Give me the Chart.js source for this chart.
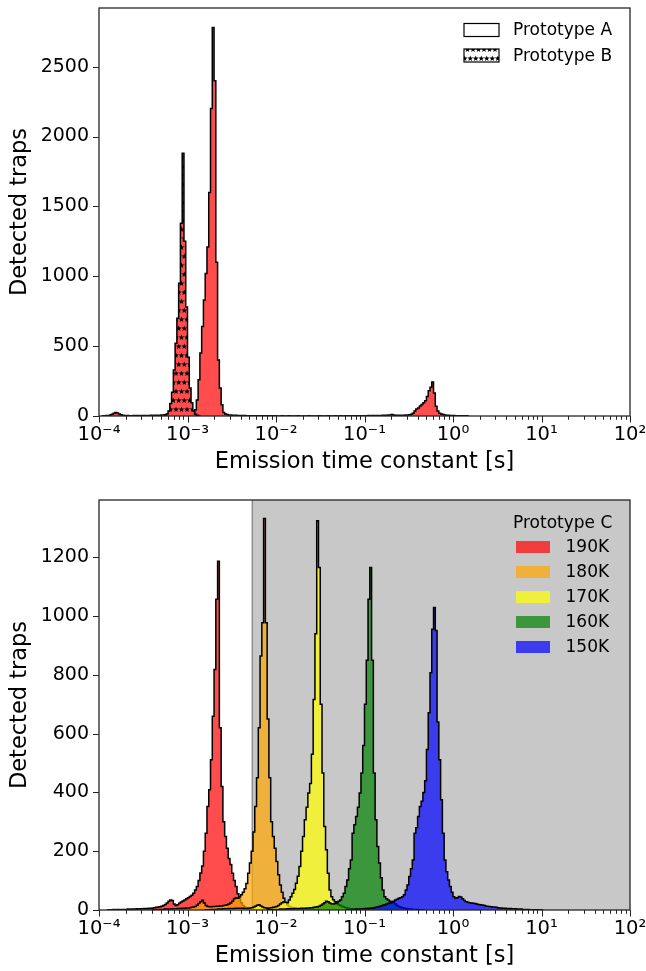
<!DOCTYPE html>
<html><head><meta charset="utf-8">
<script src="https://cdn.jsdelivr.net/npm/chart.js@4.4.0/dist/chart.umd.min.js"></script>
<style>
html,body{margin:0;padding:0;background:#fff;}
#wrap{position:relative;width:646px;height:971px;overflow:hidden;background:#fff;}
canvas{position:absolute;left:0;}
#c1{top:0;} #c2{top:485px;}
</style></head><body>
<div id="wrap">
<canvas id="c1" width="646" height="485"></canvas>
<canvas id="c2" width="646" height="486"></canvas>
</div>
<script>
// ---------------- data ----------------
const BIN_START_EXP = -4;      // log10 of the first histogram bin edge
const BIN_STEP_EXP = 0.02;     // histogram bin width, in decades
const xTickValues = [1e-4, 1e-3, 1e-2, 1e-1, 1, 10, 100];
const xTickLabels = ['10⁻⁴', '10⁻³', '10⁻²', '10⁻¹', '10⁰', '10¹', '10²'];
const yTicksTop = [0, 500, 1000, 1500, 2000, 2500];
const yTicksBottom = [0, 200, 400, 600, 800, 1000, 1200];
const xAxisTitle = 'Emission time constant [s]';
const yAxisTitle = 'Detected traps';
const topLegendLabels = ['Prototype A', 'Prototype B'];
const bottomLegendTitle = 'Prototype C';
const temperatureLabels = ['190K', '180K', '170K', '160K', '150K'];
const GRAY_SPAN_START = 5.4e-3;

// Prototype A counts, first value is bin 2
const protoAStartBin = 2;
const protoACounts = [
  1,2,3,4,7,12,20,25,22,15,9,6,4,3,
  3,2,2,3,2,3,3,2,3,4,3,4,4,5,4,5,6,5,6,7,8,9,
  10,10,9,8,8,7,7,6,6,6,7,8,9,10,12,
  20,45,115,260,450,640,830,1020,1210,1600,2200,2780,2400,1100,400,200,80,25,14,
  10,8,7,6,5,5,4,4,3,3,3,2,2,2,
  2,1,2,1,1,2,1,1,1,0,1,1,0,1,0,
  0,0,1,0,0,0,1,0,0,0, 0,1,0,0,0,0,0,1,0,0, 0,0,0,1,0,0,0,0,1,0, 0,0,1,0,0,1,0,0,1,0, 1,0,1,1,0,1,1,2,1,
  2,2,3,2,3,3,4,3,4,4,5,5,6,7,8,10,8,6,5,5,5,6,6,7,8,9,12,
  20,35,50,58,72,82,95,110,140,180,205,243,165,70,35,20,14,10,7,6,5,4,3,3,2,2,2,1,1,1,1,0
];
// Prototype B counts, first value is bin 37
const protoBStartBin = 37;
const protoBCounts = [5,15,35,90,170,330,520,700,950,1380,1880,1250,780,420,200,95,35,12,5,2];

// Prototype C
const c190StartBin = 5;
const c190Counts = [
  1,1,1,2,1,2,2,1,2,2,2,3,2,3,3,3,4,3,4,4,5,4,5,6,6,
  7,8,9,10,11,13,15,19,24,30,34,32,20,15,18,23,27,31,34,38,42,46,50,
  57,68,80,100,126,150,200,261,352,409,511,659,818,1057,1187,
  620,420,300,250,210,175,155,125,100,80,55,40,25,15,10,7,5,4,3,3,2,2,2,1,1,1,1,1,0
];
const c180StartBin = 30;
const c180Counts = [
  1,1,1,2,2,2,2,3,3,3,3,4,4,4,5,5,5,6,6,7,7,8,9,10,12,16,22,28,33,
  24,15,12,11,11,12,12,13,13,14,14,15,16,18,20,24,30,38,
  42,40,45,52,60,72,90,125,160,200,265,352,450,620,864,977,1332,977,
  650,450,300,250,210,165,120,85,60,40,25,18,12,10,8,6,5,4,4,3,3,2,2,2,1,1,1,1,0
];
const c170StartBin = 60;
const c170Counts = [
  1,1,1,2,2,2,2,3,3,3,4,4,4,5,5,5,5,6,6,6,6,6,5,5,6,
  7,8,10,13,16,18,14,10,8,7,6,7,8,9,10,12,15,20,25,28,26,25,
  34,45,57,70,91,115,148,200,250,307,350,398,430,530,716,940,1324,1165,
  700,466,284,205,125,68,45,35,28,22,18,15,12,10,8,6,5,4,3,3,2,2,2,1,1,1,1,0
];
const c160StartBin = 95;
const c160Counts = [
  1,1,1,2,2,2,2,3,3,3,3,4,4,4,4,5,5,5,5,6,6,6,7,7,8,8,9,10,11,
  13,16,20,25,30,28,24,21,20,22,25,30,
  34,45,57,80,102,140,170,261,290,318,350,398,466,560,700,850,1057,1165,
  850,466,307,216,160,110,68,45,38,34,30,28,25,20,15,12,10,8,6,5,4,3,3,2,2,2,1,1,1,0
];
const c150StartBin = 140;
const c150Counts = [
  1,1,2,2,2,3,3,3,4,4,5,5,6,6,7,8,9,10,12,14,16,18,20,22,24,27,30,34,37,40,42,45,
  52,68,85,114,140,170,261,280,318,352,370,400,440,546,671,807,955,1029,951,
  640,511,375,261,170,130,102,80,60,45,40,42,46,44,38,32,28,26,25,24,
  23,22,20,19,18,17,16,14,13,12,11,10,10,9,8,7,7,6,6,5,
  5,5,4,4,4,3,3,3,2,2,2,2,1,1,1,1,1,1,1,0
];
const cStartBins = [c190StartBin, c180StartBin, c170StartBin, c160StartBin, c150StartBin];
const cCounts = [c190Counts, c180Counts, c170Counts, c160Counts, c150Counts];
const cColors = ['rgba(255,0,0,0.7)', 'rgba(255,165,0,0.7)', 'rgba(255,255,0,0.7)', 'rgba(0,128,0,0.7)', 'rgba(0,0,255,0.7)'];

// ---------------- helpers ----------------
Chart.defaults.font.family = '"DejaVu Sans", sans-serif';
Chart.defaults.color = '#000';

function binEdge(bin) { return Math.pow(10, BIN_START_EXP + bin * BIN_STEP_EXP); }
function histogramPoints(startBin, counts) {
  const pts = [{x: binEdge(startBin), y: 0}];
  counts.forEach((c, i) => pts.push({x: binEdge(startBin + i), y: c}));
  pts.push({x: binEdge(startBin + counts.length), y: 0});
  return pts;
}
function drawStar(ctx, cx, cy, R, r) {
  ctx.beginPath();
  for (let i = 0; i < 10; i++) {
    const a = -Math.PI / 2 + i * Math.PI / 5;
    const rad = i % 2 ? r : R;
    ctx.lineTo(cx + rad * Math.cos(a), cy + rad * Math.sin(a));
  }
  ctx.closePath();
  ctx.fill();
}
function starPattern(bg) {
  const c = document.createElement('canvas');
  c.width = 11; c.height = 18;
  const g = c.getContext('2d');
  g.fillStyle = bg; g.fillRect(0, 0, 11, 18);
  g.fillStyle = '#000';
  [[2.75, 4.5], [8.25, 4.5], [0, 13.5], [5.5, 13.5], [11, 13.5], [2.75, 22.5], [8.25, 22.5], [2.75, -4.5], [8.25, -4.5]]
    .forEach(p => drawStar(g, p[0], p[1], 3.0, 1.3));
  return document.getElementById('c1').getContext('2d').createPattern(c, 'repeat');
}
const redStarFill = starPattern('rgb(255,77,77)');
const whiteStarFill = starPattern('#ffffff');

function line(ctx, x1, y1, x2, y2) { ctx.beginPath(); ctx.moveTo(x1, y1); ctx.lineTo(x2, y2); ctx.stroke(); }

const axesDecor = {
  id: 'axesDecor',
  afterDatasetsDraw(chart) {
    const {ctx, chartArea: a} = chart;
    const x = chart.scales.x, y = chart.scales.y;
    ctx.save();
    ctx.strokeStyle = '#222';
    ctx.lineWidth = 1;
    for (let d = -4; d <= 2; d++) {
      for (let m = 1; m <= 9; m++) {
        if (d === 2 && m > 1) break;
        const px = Math.round(x.getPixelForValue(m * Math.pow(10, d))) + 0.5;
        line(ctx, px, a.bottom, px, a.bottom + (m === 1 ? 6.5 : 3.8));
      }
    }
    y.ticks.forEach(t => {
      const py = Math.round(y.getPixelForValue(t.value)) + 0.5;
      line(ctx, a.left - 6, py, a.left, py);
    });
    ctx.lineWidth = 1.3;
    ctx.strokeStyle = '#262626';
    ctx.strokeRect(a.left, a.top, a.right - a.left, a.bottom - a.top);
    ctx.restore();
  }
};

const graySpan = {
  id: 'graySpan',
  beforeDatasetsDraw(chart) {
    const {ctx, chartArea: a} = chart;
    const x0 = chart.scales.x.getPixelForValue(GRAY_SPAN_START);
    ctx.save();
    ctx.fillStyle = 'rgb(200,200,200)';
    ctx.fillRect(x0, a.top, a.right - x0, a.bottom - a.top);
    ctx.strokeStyle = '#8e8e8e';
    ctx.lineWidth = 1.5;
    line(ctx, x0, a.top, x0, a.bottom);
    ctx.restore();
  }
};

const topLegend = {
  id: 'topLegend',
  afterDraw(chart) {
    const {ctx, chartArea: a} = chart;
    ctx.save();
    ctx.font = '17px "DejaVu Sans"';
    ctx.textBaseline = 'middle';
    topLegendLabels.forEach((lab, i) => {
      const cy = a.top + 22 + i * 25.5;
      const px = a.right - 166;
      ctx.fillStyle = i === 0 ? '#fff' : whiteStarFill;
      ctx.fillRect(px, cy - 6.5, 35, 13);
      ctx.strokeStyle = '#000'; ctx.lineWidth = 1.2;
      ctx.strokeRect(px, cy - 6.5, 35, 13);
      ctx.fillStyle = '#000';
      ctx.fillText(lab, a.right - 117, cy + 1);
    });
    ctx.restore();
  }
};

const bottomLegend = {
  id: 'bottomLegend',
  afterDraw(chart) {
    const {ctx, chartArea: a} = chart;
    ctx.save();
    ctx.font = '17px "DejaVu Sans"';
    ctx.textBaseline = 'middle';
    ctx.fillStyle = '#000';
    ctx.fillText(bottomLegendTitle, a.right - 117, a.top + 24);
    temperatureLabels.forEach((lab, i) => {
      const cy = a.top + 47 + i * 25;
      ctx.fillStyle = cColors[i];
      ctx.fillRect(a.right - 114, cy - 6, 34, 12);
      ctx.fillStyle = '#000';
      ctx.fillText(lab, a.right - 64.5, cy + 1);
    });
    ctx.restore();
  }
};

function makeOptions(yMax, yTicks, pad) {
  return {
    responsive: false, animation: false, devicePixelRatio: 1, events: [],
    layout: {padding: pad},
    plugins: {legend: {display: false}, tooltip: {enabled: false}},
    elements: {point: {radius: 0}, line: {tension: 0}},
    scales: {
      x: {
        type: 'logarithmic', min: 1e-4, max: 1e2,
        afterBuildTicks: s => { s.ticks = xTickValues.map(v => ({value: v, major: true})); },
        afterFit: s => { s.height = 60; s.paddingLeft = 0; s.paddingRight = 0; },
        ticks: {autoSkip: false, maxRotation: 0, minRotation: 0, padding: 7, color: '#000', font: {size: 19.5},
                callback: (v, i) => xTickLabels[i]},
        grid: {display: false, drawTicks: false},
        border: {display: false},
        title: {display: true, text: xAxisTitle, color: '#000', font: {size: 22.5}, padding: {top: 0, bottom: 0}}
      },
      y: {
        type: 'linear', min: 0, max: yMax,
        afterBuildTicks: s => { s.ticks = yTicks.map(v => ({value: v})); },
        afterFit: s => { s.width = 99; s.paddingTop = 0; s.paddingBottom = 0; },
        ticks: {padding: 10, color: '#000', font: {size: 19}, callback: v => String(v)},
        grid: {display: false, drawTicks: false},
        border: {display: false},
        title: {display: true, text: yAxisTitle, color: '#000', font: {size: 22.5}, padding: {top: 7, bottom: 0}}
      }
    }
  };
}

function histDataset(label, startBin, counts, fillStyle, order) {
  return {
    label, data: histogramPoints(startBin, counts),
    stepped: true, fill: 'origin', backgroundColor: fillStyle,
    borderColor: '#000', borderWidth: 1.5, pointRadius: 0, order,
    borderJoinStyle: 'miter', borderCapStyle: 'butt'
  };
}

new Chart(document.getElementById('c1'), {
  type: 'line',
  data: {datasets: [
    histDataset(topLegendLabels[1], protoBStartBin, protoBCounts, redStarFill, 1),
    histDataset(topLegendLabels[0], protoAStartBin, protoACounts, 'rgba(255,0,0,0.7)', 2)
  ]},
  options: makeOptions(2920, yTicksTop, {left: 0, right: 16, top: 8, bottom: 9}),
  plugins: [axesDecor, topLegend]
});

new Chart(document.getElementById('c2'), {
  type: 'line',
  data: {datasets: temperatureLabels.map((t, i) =>
    histDataset(t, cStartBins[i], cCounts[i], cColors[i], 5 - i))},
  options: makeOptions(1395, yTicksBottom, {left: 0, right: 16, top: 15, bottom: 1}),
  plugins: [graySpan, axesDecor, bottomLegend]
});
</script>
</body></html>
